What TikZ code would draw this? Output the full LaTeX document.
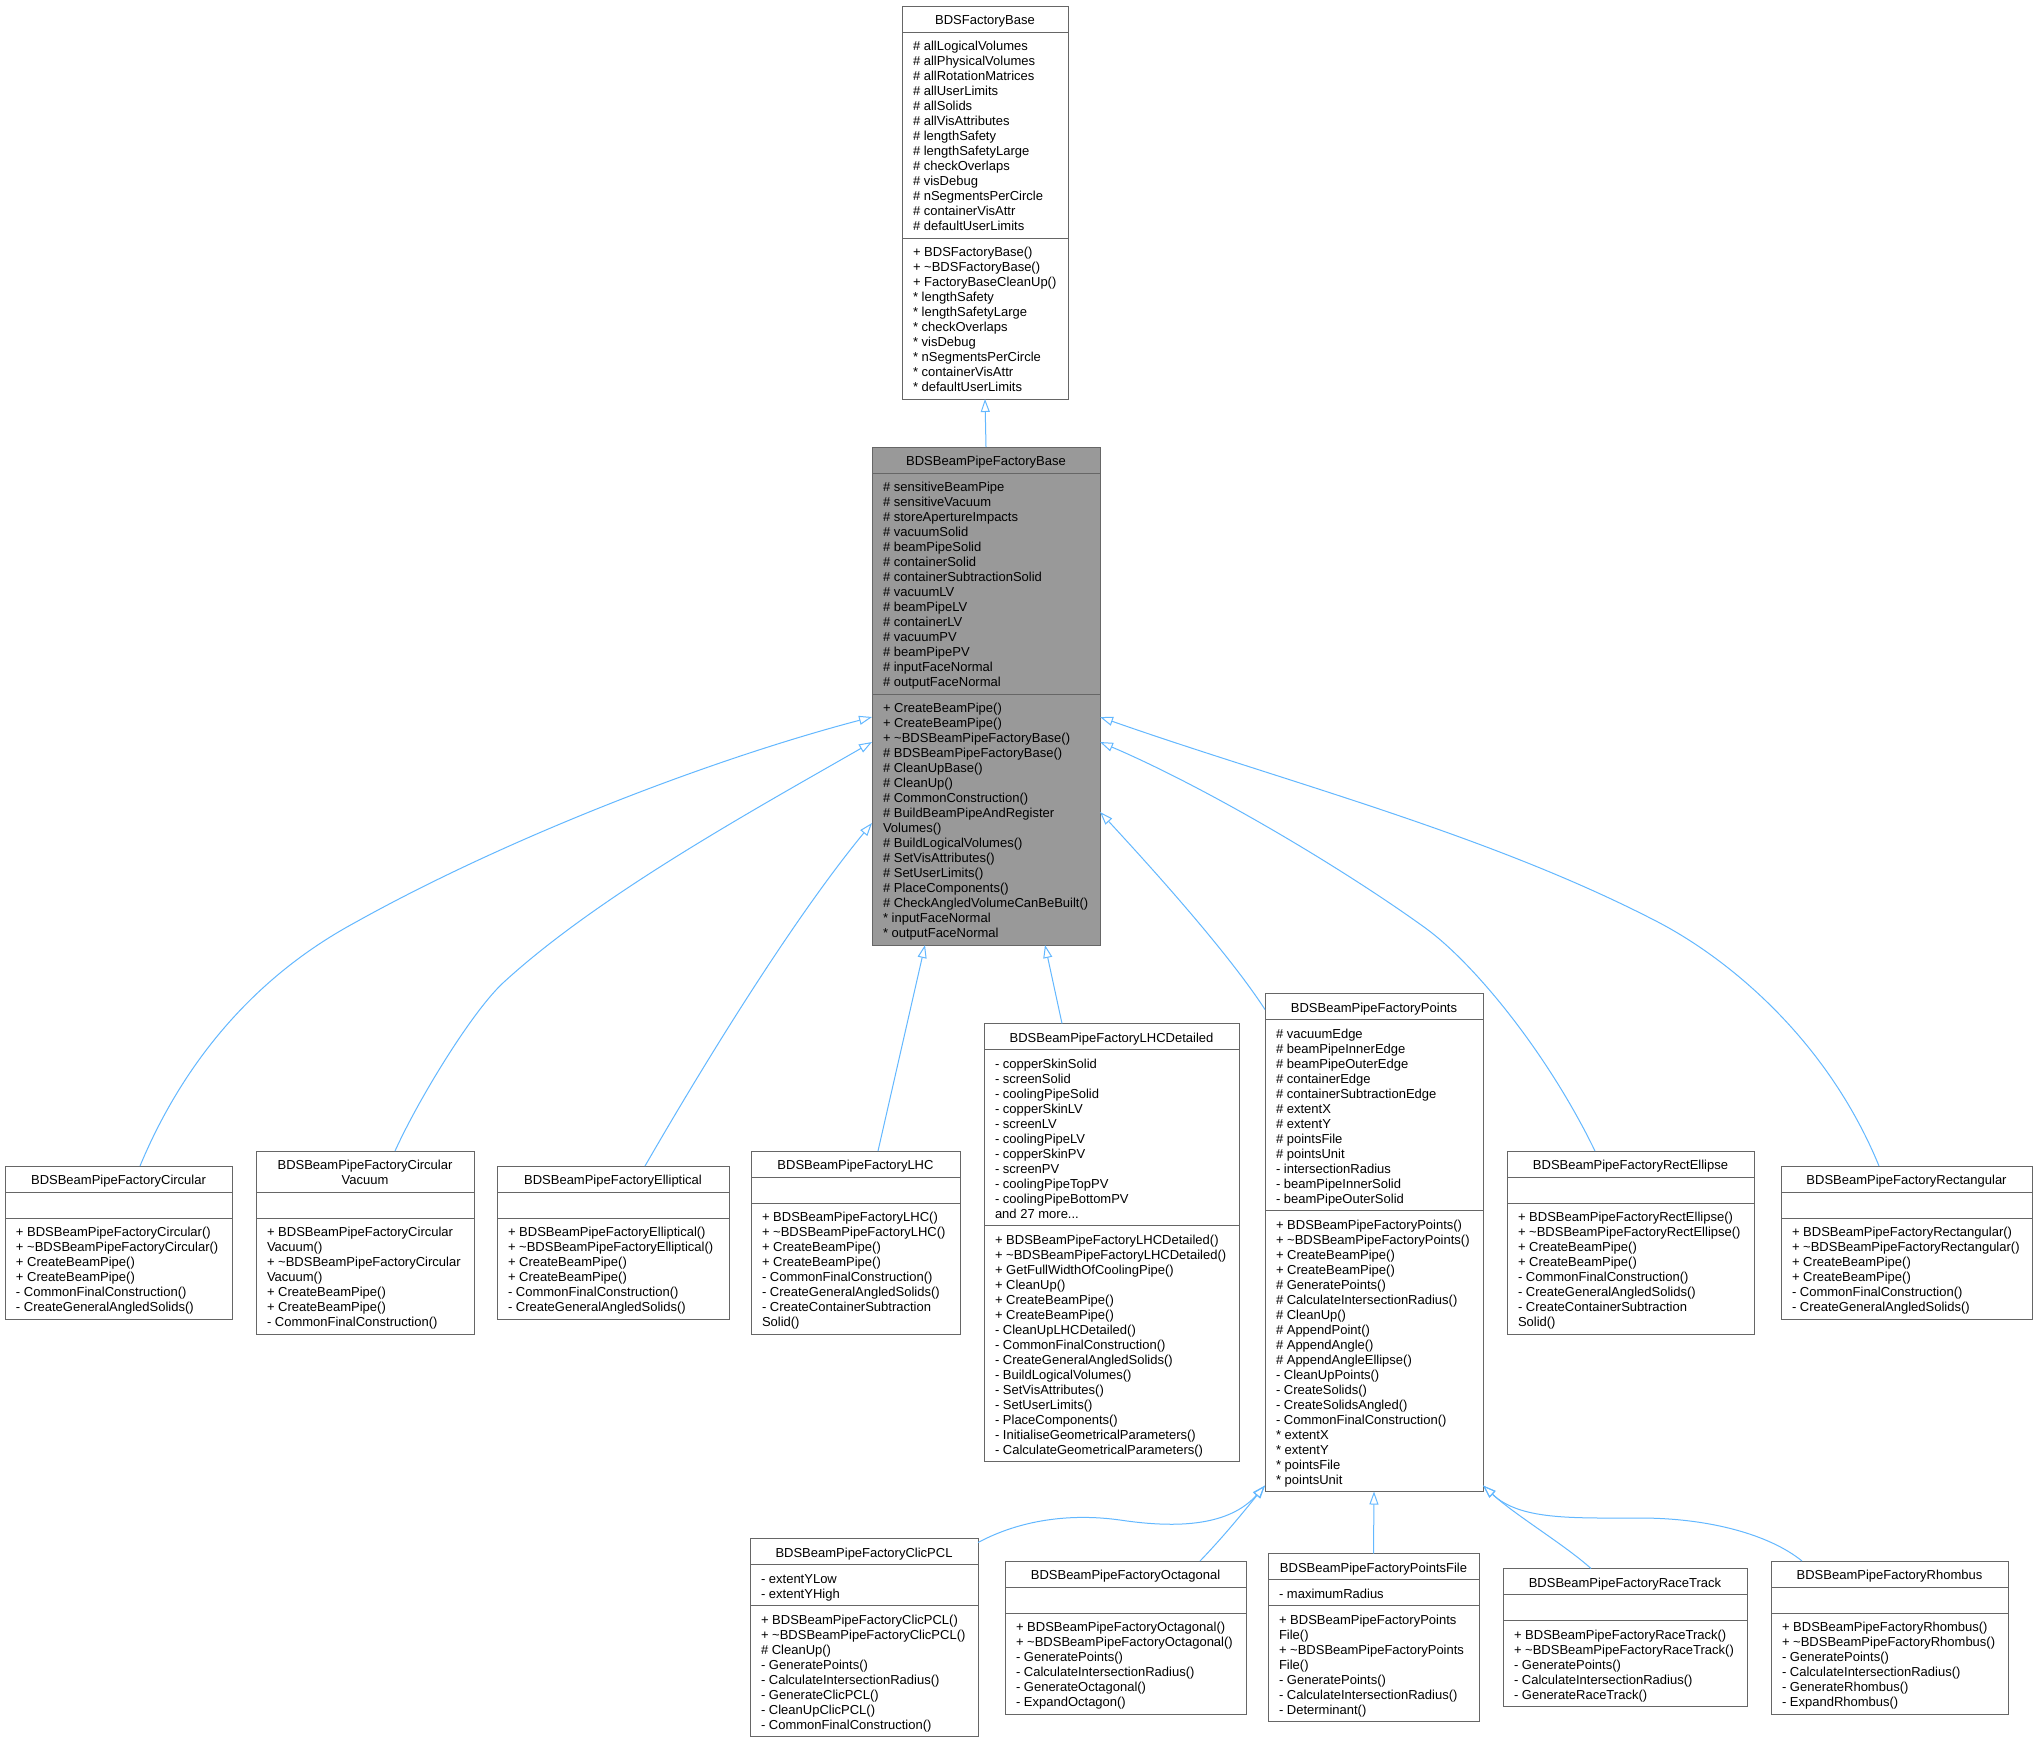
\documentclass[tikz,border=0pt]{standalone}
\usepackage{fontspec}
\setmainfont{Liberation Sans}
\usetikzlibrary{arrows.meta,calc}
\definecolor{edgec}{HTML}{63B8FF}
\definecolor{boxc}{HTML}{666666}
\definecolor{basefill}{HTML}{999999}
\tikzset{
  txtl/.style={anchor=base west, inner sep=0pt, outer sep=0pt, font=\fontsize{13}{15}\selectfont},
  txtc/.style={anchor=base, inner sep=0pt, outer sep=0pt, font=\fontsize{13}{15}\selectfont},
  cbox/.style={draw=boxc, line width=1pt, anchor=north west, inner sep=0pt, outer sep=0pt},
  sepl/.style={draw=boxc, line width=1pt},
  inh/.style={draw=edgec, line width=1pt, -{Triangle[open, length=13pt, width=9pt]}},
}
\newcommand\clsbegin[6]{%
  \gdef\cname{#1}\gdef\cx{#2}\gdef\cw{#4}\gdef\cyy{#3}%
  \node[cbox, fill=#6, minimum width=#4pt, minimum height=#5pt] (#1) at (#2,#3) {};}
\newcommand\advsec[1]{\pgfmathsetmacro\tmpy{\cyy+15*#1+11}\xdef\cyy{\tmpy}}
\newcommand\csep{\draw[sepl] (\cx,\cyy) -- ++(\cw,0);}
\newcommand\ctitle[2]{%
  \foreach \itm [count=\i] in {#2}{\node[txtc] (\cname-t\i) at (\cx+\cw/2,\cyy+3.5+15*\i) {\itm};}%
  \advsec{#1}\csep}
\newcommand\csec[3]{%
  \foreach \itm [count=\i] in {#3}{\node[txtl] (\cname-#1\i) at (\cx+11,\cyy+3.5+15*\i) {\itm};}%
  \advsec{#2}}
\newcommand\cempty{\advsec{1}}
\newcommand\tld{\textasciitilde}
\newcommand\threedots{...}
\begin{document}
\begin{tikzpicture}[x=1pt,y=-1pt]
\fill[white] (0,0) rectangle (2036,1743);
\useasboundingbox (0,0) rectangle (2036,1743);

% BDSFactoryBase
\clsbegin{FB}{902}{6}{166}{393}{white}
\ctitle{1}{BDSFactoryBase}
\csec{a}{13}{\# allLogicalVolumes,\# allPhysicalVolumes,\# allRotationMatrices,\# allUserLimits,\# allSolids,\# allVisAttributes,\# lengthSafety,\# lengthSafetyLarge,\# checkOverlaps,\# visDebug,\# nSegmentsPerCircle,\# containerVisAttr,\# defaultUserLimits}
\csep
\csec{m}{10}{+ BDSFactoryBase(),+ \tld BDSFactoryBase(),+ FactoryBaseCleanUp(),* lengthSafety,* lengthSafetyLarge,* checkOverlaps,* visDebug,* nSegmentsPerCircle,* containerVisAttr,* defaultUserLimits}

% BDSBeamPipeFactoryBase
\clsbegin{Base}{872}{447}{228}{498}{basefill}
\ctitle{1}{BDSBeamPipeFactoryBase}
\csec{a}{14}{\# sensitiveBeamPipe,\# sensitiveVacuum,\# storeApertureImpacts,\# vacuumSolid,\# beamPipeSolid,\# containerSolid,\# containerSubtractionSolid,\# vacuumLV,\# beamPipeLV,\# containerLV,\# vacuumPV,\# beamPipePV,\# inputFaceNormal,\# outputFaceNormal}
\csep
\csec{m}{16}{+ CreateBeamPipe(),+ CreateBeamPipe(),+ \tld BDSBeamPipeFactoryBase(),\# BDSBeamPipeFactoryBase(),\# CleanUpBase(),\# CleanUp(),\# CommonConstruction(),\# BuildBeamPipeAndRegister,Volumes(),\# BuildLogicalVolumes(),\# SetVisAttributes(),\# SetUserLimits(),\# PlaceComponents(),\# CheckAngledVolumeCanBeBuilt(),* inputFaceNormal,* outputFaceNormal}

% Circular
\clsbegin{Circ}{5}{1166}{227}{153}{white}
\ctitle{1}{BDSBeamPipeFactoryCircular}
\cempty\csep
\csec{m}{6}{+ BDSBeamPipeFactoryCircular(),+ \tld BDSBeamPipeFactoryCircular(),+ CreateBeamPipe(),+ CreateBeamPipe(),- CommonFinalConstruction(),- CreateGeneralAngledSolids()}

% CircularVacuum
\clsbegin{CircV}{256}{1151}{218}{183}{white}
\ctitle{2}{BDSBeamPipeFactoryCircular,Vacuum}
\cempty\csep
\csec{m}{7}{+ BDSBeamPipeFactoryCircular,Vacuum(),+ \tld BDSBeamPipeFactoryCircular,Vacuum(),+ CreateBeamPipe(),+ CreateBeamPipe(),- CommonFinalConstruction()}

% Elliptical
\clsbegin{Ell}{497}{1166}{232}{153}{white}
\ctitle{1}{BDSBeamPipeFactoryElliptical}
\cempty\csep
\csec{m}{6}{+ BDSBeamPipeFactoryElliptical(),+ \tld BDSBeamPipeFactoryElliptical(),+ CreateBeamPipe(),+ CreateBeamPipe(),- CommonFinalConstruction(),- CreateGeneralAngledSolids()}

% LHC
\clsbegin{LHC}{751}{1151}{209}{183}{white}
\ctitle{1}{BDSBeamPipeFactoryLHC}
\cempty\csep
\csec{m}{8}{+ BDSBeamPipeFactoryLHC(),+ \tld BDSBeamPipeFactoryLHC(),+ CreateBeamPipe(),+ CreateBeamPipe(),- CommonFinalConstruction(),- CreateGeneralAngledSolids(),- CreateContainerSubtraction,Solid()}

% LHCDetailed
\clsbegin{LHCD}{984}{1023.5}{255}{438}{white}
\ctitle{1}{BDSBeamPipeFactoryLHCDetailed}
\csec{a}{11}{- copperSkinSolid,- screenSolid,- coolingPipeSolid,- copperSkinLV,- screenLV,- coolingPipeLV,- copperSkinPV,- screenPV,- coolingPipeTopPV,- coolingPipeBottomPV,and 27 more\threedots}
\csep
\csec{m}{15}{+ BDSBeamPipeFactoryLHCDetailed(),+ \tld BDSBeamPipeFactoryLHCDetailed(),+ GetFullWidthOfCoolingPipe(),+ CleanUp(),+ CreateBeamPipe(),+ CreateBeamPipe(),- CleanUpLHCDetailed(),- CommonFinalConstruction(),- CreateGeneralAngledSolids(),- BuildLogicalVolumes(),- SetVisAttributes(),- SetUserLimits(),- PlaceComponents(),- InitialiseGeometricalParameters(),- CalculateGeometricalParameters()}

% Points
\clsbegin{Pts}{1265}{993.5}{218}{498}{white}
\ctitle{1}{BDSBeamPipeFactoryPoints}
\csec{a}{12}{\# vacuumEdge,\# beamPipeInnerEdge,\# beamPipeOuterEdge,\# containerEdge,\# containerSubtractionEdge,\# extentX,\# extentY,\# pointsFile,\# pointsUnit,- intersectionRadius,- beamPipeInnerSolid,- beamPipeOuterSolid}
\csep
\csec{m}{18}{+ BDSBeamPipeFactoryPoints(),+ \tld BDSBeamPipeFactoryPoints(),+ CreateBeamPipe(),+ CreateBeamPipe(),\# GeneratePoints(),\# CalculateIntersectionRadius(),\# CleanUp(),\# AppendPoint(),\# AppendAngle(),\# AppendAngleEllipse(),- CleanUpPoints(),- CreateSolids(),- CreateSolidsAngled(),- CommonFinalConstruction(),* extentX,* extentY,* pointsFile,* pointsUnit}

% RectEllipse
\clsbegin{RectE}{1507}{1151}{247}{183}{white}
\ctitle{1}{BDSBeamPipeFactoryRectEllipse}
\cempty\csep
\csec{m}{8}{+ BDSBeamPipeFactoryRectEllipse(),+ \tld BDSBeamPipeFactoryRectEllipse(),+ CreateBeamPipe(),+ CreateBeamPipe(),- CommonFinalConstruction(),- CreateGeneralAngledSolids(),- CreateContainerSubtraction,Solid()}

% Rectangular
\clsbegin{Rect}{1781}{1166}{251}{153}{white}
\ctitle{1}{BDSBeamPipeFactoryRectangular}
\cempty\csep
\csec{m}{6}{+ BDSBeamPipeFactoryRectangular(),+ \tld BDSBeamPipeFactoryRectangular(),+ CreateBeamPipe(),+ CreateBeamPipe(),- CommonFinalConstruction(),- CreateGeneralAngledSolids()}

% ClicPCL
\clsbegin{Clic}{750}{1538.5}{228}{198}{white}
\ctitle{1}{BDSBeamPipeFactoryClicPCL}
\csec{a}{2}{- extentYLow,- extentYHigh}
\csep
\csec{m}{8}{+ BDSBeamPipeFactoryClicPCL(),+ \tld BDSBeamPipeFactoryClicPCL(),\# CleanUp(),- GeneratePoints(),- CalculateIntersectionRadius(),- GenerateClicPCL(),- CleanUpClicPCL(),- CommonFinalConstruction()}

% Octagonal
\clsbegin{Oct}{1005}{1561}{241}{153}{white}
\ctitle{1}{BDSBeamPipeFactoryOctagonal}
\cempty\csep
\csec{m}{6}{+ BDSBeamPipeFactoryOctagonal(),+ \tld BDSBeamPipeFactoryOctagonal(),- GeneratePoints(),- CalculateIntersectionRadius(),- GenerateOctagonal(),- ExpandOctagon()}

% PointsFile
\clsbegin{PtsF}{1268}{1553.5}{211}{168}{white}
\ctitle{1}{BDSBeamPipeFactoryPointsFile}
\csec{a}{1}{- maximumRadius}
\csep
\csec{m}{7}{+ BDSBeamPipeFactoryPoints,File(),+ \tld BDSBeamPipeFactoryPoints,File(),- GeneratePoints(),- CalculateIntersectionRadius(),- Determinant()}

% RaceTrack
\clsbegin{Race}{1503}{1568.5}{244}{138}{white}
\ctitle{1}{BDSBeamPipeFactoryRaceTrack}
\cempty\csep
\csec{m}{5}{+ BDSBeamPipeFactoryRaceTrack(),+ \tld BDSBeamPipeFactoryRaceTrack(),- GeneratePoints(),- CalculateIntersectionRadius(),- GenerateRaceTrack()}

% Rhombus
\clsbegin{Rhomb}{1771}{1561}{237}{153}{white}
\ctitle{1}{BDSBeamPipeFactoryRhombus}
\cempty\csep
\csec{m}{6}{+ BDSBeamPipeFactoryRhombus(),+ \tld BDSBeamPipeFactoryRhombus(),- GeneratePoints(),- CalculateIntersectionRadius(),- GenerateRhombus(),- ExpandRhombus()}

% inheritance edges
\draw[inh] (Base.north) -- (FB.south);
\draw[inh] ($(Circ.north west)+(135,0)$) .. controls (205,1010) and (312,946) .. (356,922) .. controls (505,839) and (708,760) .. ($(Base.north west)+(0,270)$);
\draw[inh] ($(CircV.north west)+(139,0)$) .. controls (420,1096) and (474,1009) .. (504,982) .. controls (600,894) and (759,807) .. ($(Base.north west)+(0,295)$);
\draw[inh] ($(Ell.north west)+(148,0)$) .. controls (705,1062) and (793,919) .. ($(Base.north west)+(0,376)$);
\draw[inh] ($(LHC.north west)+(127,0)$) -- ($(Base.south west)+(53,0)$);
\draw[inh] ($(LHCD.north west)+(78,0)$) -- ($(Base.south west)+(173,0)$);
\draw[inh] ($(Pts.north west)+(0,16)$) .. controls (1227,951) and (1149,865) .. ($(Base.north east)+(0,365)$);
\draw[inh] ($(RectE.north west)+(88,0)$) .. controls (1547,1052) and (1473,962) .. (1424,927) .. controls (1335,863) and (1201,785) .. ($(Base.north east)+(0,295)$);
\draw[inh] ($(Rect.north west)+(98,0)$) .. controls (1826,1037) and (1725,956) .. (1654,920) .. controls (1485,833) and (1279,780) .. ($(Base.north east)+(0,270)$);

\draw[inh] ($(Clic.north east)+(0,4)$) .. controls (1020,1520) and (1070,1513) .. (1120,1520) .. controls (1180,1529) and (1230,1525) .. ($(Pts.south west)+(0,-6)$);
\draw[inh] ($(Oct.north west)+(195,0)$) .. controls (1225,1535) and (1245,1510) .. ($(Pts.south west)+(0,-6)$);
\draw[inh] (PtsF.north) -- (Pts.south);
\draw[inh] ($(Race.north west)+(88,0)$) .. controls (1565,1545) and (1515,1515) .. ($(Pts.south east)+(0,-6)$);
\draw[inh] ($(Rhomb.north west)+(31,0)$) .. controls (1770,1535) and (1710,1518) .. (1640,1518) .. controls (1570,1518) and (1520,1520) .. ($(Pts.south east)+(0,-6)$);
\end{tikzpicture}
\end{document}
